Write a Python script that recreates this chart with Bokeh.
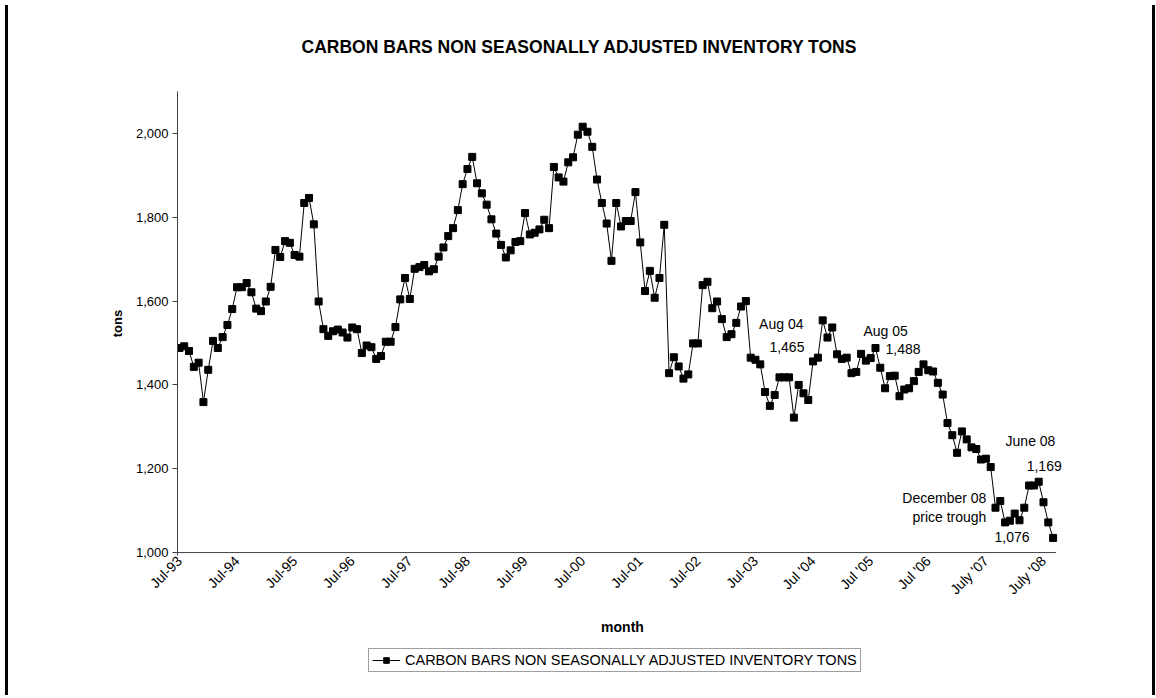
import math
from bokeh.plotting import figure
from bokeh.models import (Range1d, FixedTicker, NumeralTickFormatter, Label,
                          Legend, LegendItem, Div)
from bokeh.layouts import row, column
from bokeh.embed import file_html
from bokeh.resources import INLINE

# ---------------- data ----------------
series_name = "CARBON BARS NON SEASONALLY ADJUSTED INVENTORY TONS"

inventory = [
    1488, 1492, 1481, 1443, 1453, 1359, 1436, 1505, 1488, 1514, 1543, 1581,
    1633, 1633, 1643, 1621, 1582, 1576, 1599, 1634, 1722, 1705, 1743, 1739,
    1710, 1706, 1834, 1846, 1783, 1599, 1533, 1517, 1528, 1532, 1525, 1513,
    1537, 1533, 1476, 1494, 1490, 1462, 1469, 1503,
    1503, 1538, 1604, 1655, 1605, 1677, 1681, 1686, 1671, 1676, 1706, 1728,
    1755, 1774, 1817, 1879, 1915, 1944, 1881, 1857, 1830, 1795, 1761, 1734,
    1704, 1721, 1741, 1743, 1810, 1759, 1763, 1771, 1794, 1774, 1920, 1895,
    1885, 1931, 1943, 1997, 2016, 2004, 1968, 1890, 1834,
    1785, 1696, 1834, 1778, 1791, 1791, 1860, 1740, 1624, 1672, 1608, 1655,
    1782, 1428, 1466, 1444, 1415, 1425, 1499, 1499, 1638, 1646, 1583, 1599,
    1557, 1514, 1521, 1548, 1587, 1600, 1465, 1460, 1449, 1383, 1350, 1376,
    1418, 1418, 1418, 1322, 1400, 1380, 1364,
    1456, 1465, 1554, 1513, 1537, 1473, 1462, 1465, 1428, 1431, 1474, 1458,
    1464, 1488, 1441, 1392, 1421, 1422, 1373, 1389, 1392, 1409, 1431, 1449,
    1435, 1432, 1405, 1377,
    1309, 1280, 1238, 1289, 1270, 1251, 1247, 1222, 1224, 1204, 1107, 1123,
    1072, 1076, 1093, 1077, 1107, 1160, 1160, 1169, 1120, 1072, 1035,
]
month_index = list(range(len(inventory)))

tick_positions = [0, 12, 24, 36, 48, 60, 72, 84, 96, 108, 120, 132, 144, 156, 168, 180]
tick_labels = ["Jul-93", "Jul-94", "Jul-95", "Jul-96", "Jul-97", "Jul-98", "Jul-99",
               "Jul-00", "Jul-01", "Jul-02", "Jul-03", "Jul '04", "Jul '05",
               "Jul '06", "July '07", "July '08"]
y_ticks = [1000, 1200, 1400, 1600, 1800, 2000]

FONT = "Liberation Sans"

# ---------------- main figure ----------------
X_START, X_END = -0.4, 185.0
Y_START, Y_END = 993, 2100

p = figure(width=1134, height=643,
           x_range=Range1d(X_START, X_END), y_range=Range1d(Y_START, Y_END),
           output_backend="svg", toolbar_location=None,
           min_border_left=164, min_border_right=80,
           min_border_top=91, min_border_bottom=88)
p.outline_line_color = None
p.xgrid.grid_line_color = None
p.ygrid.grid_line_color = None
p.background_fill_color = "white"
p.border_fill_color = "white"

# title
p.title.text = series_name
p.title.align = "left"
p.title.offset = 124
p.title.standoff = 69
p.title.text_font = FONT
p.title.text_font_size = "17.5px"
p.title.text_font_style = "bold"
p.title.text_color = "black"

# y axis
ya = p.yaxis[0]
ya.ticker = FixedTicker(ticks=y_ticks, minor_ticks=[])
ya.formatter = NumeralTickFormatter(format="0,0")
ya.major_label_text_font = FONT
ya.major_label_text_font_size = "13px"
ya.major_label_text_color = "black"
ya.axis_line_color = "#404040"
ya.major_tick_line_color = "#404040"
ya.major_tick_out = 5
ya.major_tick_in = 0
ya.minor_tick_out = 0
ya.minor_tick_in = 0
ya.major_label_standoff = 4
ya.axis_label = "tons"
ya.axis_label_text_font = FONT
ya.axis_label_text_font_size = "13px"
ya.axis_label_text_font_style = "bold"
ya.axis_label_text_color = "black"
ya.axis_label_standoff = 8

# x axis (its line is drawn below at the 1,000 level, as in the original)
xa = p.xaxis[0]
xa.ticker = FixedTicker(ticks=tick_positions, minor_ticks=[])
xa.major_label_overrides = {pos: lab for pos, lab in zip(tick_positions, tick_labels)}
xa.major_label_orientation = math.pi / 4
xa.major_label_text_font = FONT
xa.major_label_text_font_size = "14px"
xa.major_label_text_color = "black"
xa.axis_line_color = None
xa.major_tick_out = 0
xa.major_tick_in = 0
xa.minor_tick_out = 0
xa.minor_tick_in = 0
xa.major_label_standoff = 3
xa.axis_label = "month"
xa.axis_label_text_font = FONT
xa.axis_label_text_font_size = "14px"
xa.axis_label_text_font_style = "bold"
xa.axis_label_text_color = "black"
xa.axis_label_standoff = 13

# category-axis line at the base value, spanning the categories
p.segment(x0=[X_START], y0=[y_ticks[0]], x1=[len(inventory) - 0.4], y1=[y_ticks[0]],
          line_color="#404040", line_width=1)

# series
r_line = p.line(month_index, inventory, line_color="black", line_width=1)
r_sq = p.scatter(month_index, inventory, marker="square", size=7,
                 fill_color="black", line_color="black")

# annotations (data units)
notes = [
    ("Aug 04", 130.0, 1545, "right"),
    ("1,465", 130.2, 1491, "right"),
    ("Aug 05", 142.5, 1528, "left"),
    ("1,488", 147.1, 1485, "left"),
    ("June 08", 172.1, 1265, "left"),
    ("1,169", 176.5, 1207, "left"),
    ("December 08", 168.1, 1131, "right"),
    ("price trough", 168.1, 1086, "right"),
    ("1,076", 169.8, 1038, "left"),
]
for txt, nx, ny, al in notes:
    p.add_layout(Label(x=nx, y=ny, text=txt, text_align=al, text_baseline="middle",
                       text_font=FONT, text_font_size="14px", text_color="black"))

# ---------------- legend strip ----------------
pl = figure(width=1134, height=47, x_range=Range1d(0, 1), y_range=Range1d(0, 1),
            x_axis_type=None, y_axis_type=None,
            output_backend="svg", toolbar_location=None,
            min_border_left=0, min_border_right=0, min_border_top=0, min_border_bottom=0)
pl.outline_line_color = None
pl.background_fill_color = "white"
pl.border_fill_color = "white"
# legend-key renderers, kept outside the visible range of this strip
lg_line = pl.line(x=[-5, -4], y=[-5, -4], line_color="black", line_width=1)
lg_sq = pl.scatter(x=[-5], y=[-5], marker="square", size=7,
                   fill_color="black", line_color="black")

legend = Legend(items=[LegendItem(label=series_name, renderers=[lg_line, lg_sq])],
                location=(191, 18), orientation="horizontal",
                label_text_font=FONT, label_text_font_size="14.5px",
                label_text_color="black",
                glyph_width=28, glyph_height=14, label_height=14,
                label_standoff=5, padding=3, margin=0, spacing=0,
                border_line_color="#404040", border_line_width=1,
                background_fill_color="white", background_fill_alpha=1.0)
pl.add_layout(legend)

left_bar = Div(width=3, height=690, styles={"background-color": "black"})
right_bar = Div(width=3, height=690, styles={"background-color": "black"})
layout = row(left_bar, column(p, pl, spacing=0), right_bar, spacing=0)

open("out.html", "w").write(file_html(layout, INLINE))
